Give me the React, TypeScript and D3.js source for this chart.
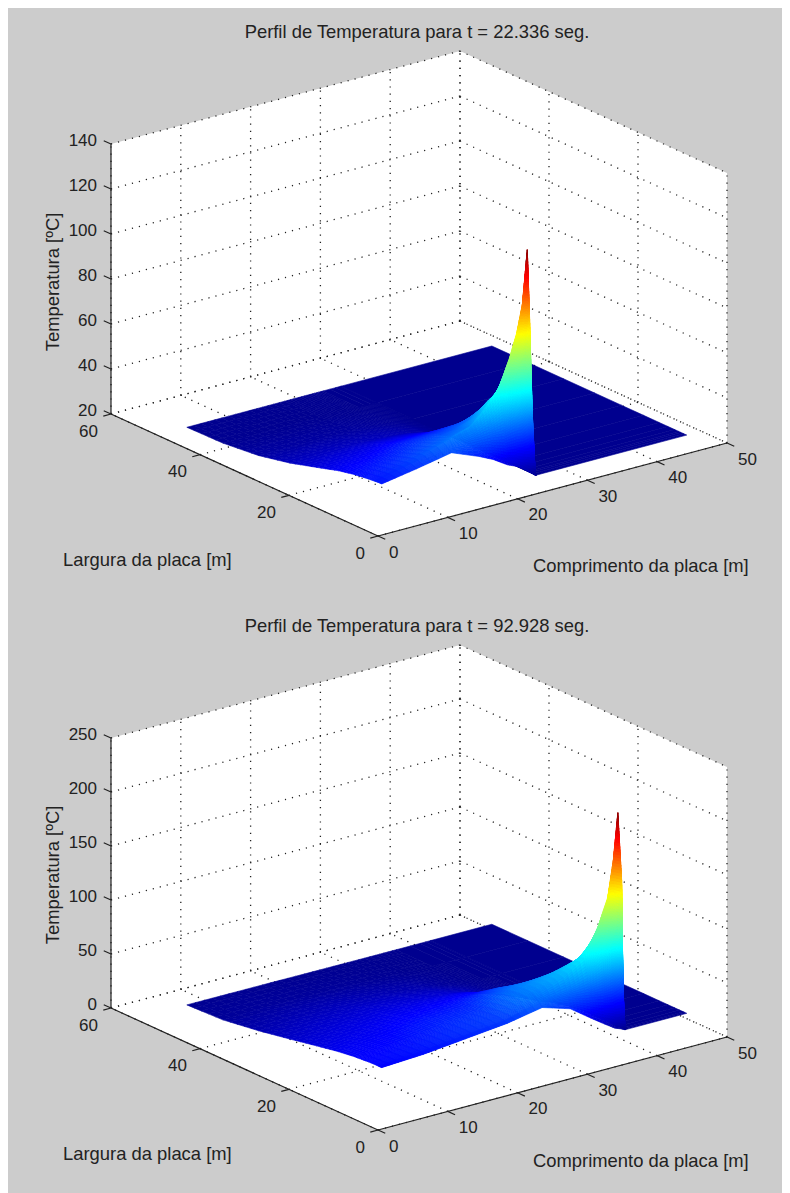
import React, { useRef, useEffect } from "react";
import * as d3 from "d3";

// x ticks and y ticks are the same on both plots
const xTicks = [0, 10, 20, 30, 40, 50];
const yTicks = [0, 20, 40, 60];
const zTicksA = [20, 40, 60, 80, 100, 120, 140];
const zTicksB = [0, 50, 100, 150, 200, 250];

// t = 22.336 s
const xNodesA = [2, 7, 12, 16, 18, 20, 21.5, 22.5, 23.3, 24, 24.1, 45.7];
const yNodesA = [2.3, 3, 3.6, 4.1, 5, 6.5, 8.5, 12, 17, 23, 30, 38, 46.1];
const tempA = [
  [39.4, 39.4, 39.3, 39.2, 39, 38.6, 38, 36.5, 33.5, 30, 27, 25.3, 25],
  [42, 42.5, 43, 43, 42.6, 41.8, 40.5, 38, 34.5, 30.5, 27, 25.3, 25],
  [45, 46, 47, 48, 47, 45.5, 44, 41, 36, 30.5, 27, 25.3, 25],
  [40, 46, 50, 52, 50, 48.5, 46, 42, 36, 30, 26.8, 25.2, 25],
  [37, 46, 53, 58, 55, 52, 48, 43, 35.5, 29.5, 26.5, 25.2, 25],
  [33, 45, 58, 66, 62, 58, 52, 43, 34, 28.5, 26, 25.1, 25],
  [31, 46, 65, 78, 68, 60, 50, 40, 32, 27.5, 25.7, 25, 25],
  [29, 46, 72, 88, 72, 58, 46, 36, 30, 26.5, 25.4, 25, 25],
  [27, 48, 78, 100, 72, 52, 40, 32, 27.5, 25.8, 25.2, 25, 25],
  [25, 53, 95, 123.7, 62, 40, 32, 28, 26, 25.3, 25, 25, 25],
  [25, 25, 25, 25, 25, 25, 25, 25, 25, 25, 25, 25, 25],
  [25, 25, 25, 25, 25, 25, 25, 25, 25, 25, 25, 25, 25],
];

// t = 92.928 s
const xNodesB = [2, 8, 14, 20, 25, 29, 32, 34, 35.4, 36.2, 36.85, 36.95, 45.7];
const yNodesB = [2.3, 2.75, 3.05, 3.9, 5, 6.5, 8.5, 12, 17, 23, 30, 38, 46.1];
const tempB = [
  [50, 50, 50, 50, 49.8, 49.2, 48.5, 46.5, 42.5, 37.5, 32, 27, 25.6],
  [52, 52.5, 53, 53, 52.8, 52, 51, 49, 45, 40, 34, 28, 25.5],
  [56, 56.5, 57, 57.5, 57.5, 57, 56, 53.5, 48.5, 42, 35, 28, 25.4],
  [60, 60.5, 61, 62, 62, 61.5, 60, 56, 50, 42, 34, 27.5, 25.2],
  [66, 68, 70, 74, 76, 76, 74, 66, 52, 40, 32, 26.5, 25.1],
  [58, 66, 74, 84, 85, 83, 76, 63, 45, 34, 28, 25.5, 25],
  [44, 62, 80, 97, 95, 88, 68, 50, 35, 28, 25.8, 25, 25],
  [35, 60, 88, 122, 108, 85, 62, 38, 29, 26, 25, 25, 25],
  [29, 60, 100, 147, 100, 60, 42, 31, 26.5, 25, 25, 25, 25],
  [27, 62, 120, 180, 90, 48, 34, 28, 25.5, 25, 25, 25, 25],
  [25, 64, 162, 223, 70, 38, 30, 26, 25, 25, 25, 25, 25],
  [25, 25, 25, 25, 25, 25, 25, 25, 25, 25, 25, 25, 25],
  [25, 25, 25, 25, 25, 25, 25, 25, 25, 25, 25, 25, 25],
];

const FONT = "'Liberation Sans', Arial, sans-serif";
const TEXT = "#222";

const jetStops = ["#00008f", "#0000ff", "#00ffff", "#ffff00", "#ff0000", "#800000"];
const jet = d3
  .scaleLinear<string>()
  .domain([0, 0.125, 0.375, 0.625, 0.875, 1])
  .range(jetStops)
  .interpolate(d3.interpolateRgb);

type Pt = [number, number];

const Panel = ({ front, title, zTicks, xNodes, yNodes, temp, layout }: any) => {
  const gRef = useRef<SVGGElement>(null);

  useEffect(() => {
    const g = d3.select(gRef.current);
    g.selectAll("*").remove();

    const F: Pt = front;
    const R: Pt = [F[0] + 349, F[1] - 93];
    const L: Pt = [F[0] - 267, F[1] - 122];
    const zHeight = 270;

    const xs = d3.scaleLinear().domain([0, 50]).range([0, 1]);
    const ys = d3.scaleLinear().domain([0, 60]).range([0, 1]);
    const zs = d3
      .scaleLinear()
      .domain(d3.extent(zTicks) as [number, number])
      .range([0, zHeight]);
    const zMin = zs.domain()[0];
    const zMax = zs.domain()[1];

    const project = (x: number, y: number, z: number): Pt => [
      F[0] + xs(x) * (R[0] - F[0]) + ys(y) * (L[0] - F[0]),
      F[1] + xs(x) * (R[1] - F[1]) + ys(y) * (L[1] - F[1]) - zs(z),
    ];

    // white box: two back walls and the floor
    const outline = [
      project(0, 60, zMin),
      project(0, 0, zMin),
      project(50, 0, zMin),
      project(50, 0, zMax),
      project(50, 60, zMax),
      project(0, 60, zMax),
    ];
    g.append("polygon")
      .attr("points", outline.join(" "))
      .attr("fill", "#fff");

    // dotted grid
    const gridLines: [Pt, Pt][] = [];
    xTicks.forEach((x) => {
      gridLines.push([project(x, 0, zMin), project(x, 60, zMin)]);
      gridLines.push([project(x, 60, zMin), project(x, 60, zMax)]);
    });
    yTicks.forEach((y) => {
      gridLines.push([project(0, y, zMin), project(50, y, zMin)]);
      gridLines.push([project(50, y, zMin), project(50, y, zMax)]);
    });
    zTicks.forEach((z: number) => {
      gridLines.push([project(0, 60, z), project(50, 60, z)]);
      gridLines.push([project(50, 60, z), project(50, 0, z)]);
    });
    g.selectAll("line.grid")
      .data(gridLines)
      .join("line")
      .attr("class", "grid")
      .attr("x1", (d) => d[0][0])
      .attr("y1", (d) => d[0][1])
      .attr("x2", (d) => d[1][0])
      .attr("y2", (d) => d[1][1])
      .attr("stroke", "#222")
      .attr("stroke-width", 1.3)
      .attr("stroke-dasharray", "1.2 6");

    // surface, far cells first
    const tMin = d3.min(temp.flat() as number[]) as number;
    const tMax = d3.max(temp.flat() as number[]) as number;
    const colour = d3.scaleLinear().domain([tMin, tMax]).range([0, 1]).clamp(true);
    const pxPerDeg = zHeight / (zMax - zMin);

    const quads: { pts: Pt[]; t: number }[] = [];
    for (let i = xNodes.length - 2; i >= 0; i--) {
      for (let j = yNodes.length - 2; j >= 0; j--) {
        const t00 = temp[i][j];
        const t10 = temp[i + 1][j];
        const t01 = temp[i][j + 1];
        const t11 = temp[i + 1][j + 1];
        const flat = t00 === t10 && t00 === t01 && t00 === t11;
        const dx = Math.max(Math.abs(t10 - t00), Math.abs(t11 - t01)) * pxPerDeg;
        const dy = Math.max(Math.abs(t01 - t00), Math.abs(t11 - t10)) * pxPerDeg;
        const nu = flat ? 1 : Math.min(24, Math.max(5, Math.ceil(dx / 3)));
        const nv = flat ? 1 : Math.min(24, Math.max(5, Math.ceil(dy / 3)));
        // shading interp inside the cell
        const at = (a: number, b: number) =>
          t00 * (1 - a) * (1 - b) + t10 * a * (1 - b) + t01 * (1 - a) * b + t11 * a * b;
        const node = (a: number, b: number) =>
          project(
            xNodes[i] + a * (xNodes[i + 1] - xNodes[i]),
            yNodes[j] + b * (yNodes[j + 1] - yNodes[j]),
            at(a, b)
          );
        for (let u = nu - 1; u >= 0; u--) {
          for (let v = nv - 1; v >= 0; v--) {
            const a0 = u / nu;
            const a1 = (u + 1) / nu;
            const b0 = v / nv;
            const b1 = (v + 1) / nv;
            quads.push({
              pts: [node(a0, b0), node(a1, b0), node(a1, b1), node(a0, b1)],
              t: at((a0 + a1) / 2, (b0 + b1) / 2),
            });
          }
        }
      }
    }
    g.append("g")
      .selectAll("polygon")
      .data(quads)
      .join("polygon")
      .attr("points", (d) => d.pts.join(" "))
      .attr("fill", (d) => jet(colour(d.t)))
      .attr("stroke", (d) => jet(colour(d.t)))
      .attr("stroke-width", 0.6)
      .attr("stroke-linejoin", "round");

    // solid axes
    const axisLines: [Pt, Pt][] = [
      [project(0, 60, zMin), project(0, 0, zMin)],
      [project(0, 0, zMin), project(50, 0, zMin)],
      [project(0, 60, zMin), project(0, 60, zMax)],
    ];
    const tick = 8;
    const norm = (v: Pt): Pt => {
      const n = Math.hypot(v[0], v[1]);
      return [(v[0] / n) * tick, (v[1] / n) * tick];
    };
    const xDir = norm([F[0] - R[0], F[1] - R[1]]);
    const yDir = norm([L[0] - F[0], L[1] - F[1]]);
    const tickDirY = norm([F[0] - L[0], F[1] - L[1]]);
    xTicks.forEach((x) => {
      const p = project(x, 0, zMin);
      axisLines.push([p, [p[0] + tickDirY[0], p[1] + tickDirY[1]]]);
    });
    yTicks.forEach((y) => {
      const p = project(0, y, zMin);
      axisLines.push([p, [p[0] + xDir[0], p[1] + xDir[1]]]);
    });
    zTicks.forEach((z: number) => {
      const p = project(0, 60, z);
      axisLines.push([p, [p[0] + yDir[0], p[1] + yDir[1]]]);
    });
    g.selectAll("line.axis")
      .data(axisLines)
      .join("line")
      .attr("class", "axis")
      .attr("x1", (d) => d[0][0])
      .attr("y1", (d) => d[0][1])
      .attr("x2", (d) => d[1][0])
      .attr("y2", (d) => d[1][1])
      .attr("stroke", "#222")
      .attr("stroke-width", 1.2);

    // tick labels
    const label = (x: number, y: number, s: string, anchor: string, size = 17) =>
      g
        .append("text")
        .attr("x", x)
        .attr("y", y)
        .attr("text-anchor", anchor)
        .attr("dominant-baseline", "central")
        .attr("font-family", FONT)
        .attr("font-size", size)
        .attr("fill", TEXT)
        .text(s);

    zTicks.forEach((z: number) => {
      const p = project(0, 60, z);
      label(p[0] - 14, p[1] - 4, String(z), "end");
    });
    yTicks.forEach((y) => {
      const p = project(0, y, zMin);
      label(p[0] - 13, p[1] + 17, String(y), "end");
    });
    xTicks.forEach((x) => {
      const p = project(x, 0, zMin);
      label(p[0] + 11, p[1] + 16, String(x), "start");
    });

    label(417, layout.titleY, title, "middle", 18.4);
    label(63, layout.yLabelY, "Largura da placa [m]", "start", 18.4);
    label(533, layout.xLabelY, "Comprimento da placa [m]", "start", 18.4);
    label(52, layout.zLabelY, "Temperatura [ºC]", "middle", 18.4).attr(
      "transform",
      `rotate(-90 52 ${layout.zLabelY})`
    );
  }, []);

  return <g ref={gRef}></g>;
};

const App = () => {
  return (
    <svg width={782} height={1185} viewBox="8 8 782 1185" style={{ display: "block" }}>
      <rect x={8} y={8} width={782} height={1185} fill="#cccccc" />
      <Panel
        front={[378, 536]}
        title="Perfil de Temperatura para t = 22.336 seg."
        zTicks={zTicksA}
        xNodes={xNodesA}
        yNodes={yNodesA}
        temp={tempA}
        layout={{ titleY: 31, yLabelY: 559, xLabelY: 565, zLabelY: 282 }}
      />
      <Panel
        front={[378, 1130]}
        title="Perfil de Temperatura para t = 92.928 seg."
        zTicks={zTicksB}
        xNodes={xNodesB}
        yNodes={yNodesB}
        temp={tempB}
        layout={{ titleY: 625, yLabelY: 1153, xLabelY: 1160, zLabelY: 875 }}
      />
    </svg>
  );
};

export default App;
